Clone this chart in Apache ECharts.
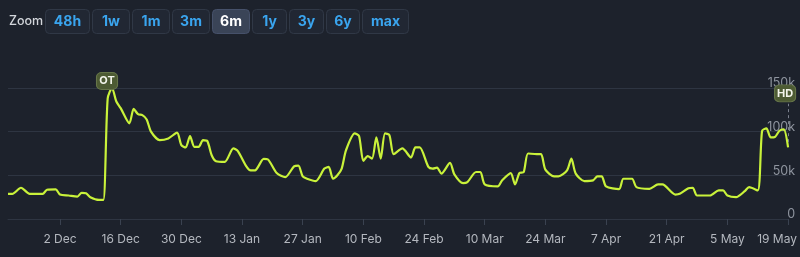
<!DOCTYPE html>
<html><head><meta charset="utf-8">
<script src="https://cdn.jsdelivr.net/npm/echarts@6/dist/echarts.min.js"></script>
<style>html,body{margin:0;padding:0;background:#1d222c;}#c{width:800px;height:257px;}</style>
</head><body><div id="c"></div>
<script>
// ---------- DATA ----------
const dates = ['2024-11-20','2024-11-21','2024-11-23','2024-11-25','2024-11-28','2024-11-29','2024-12-01','2024-12-02','2024-12-04','2024-12-06','2024-12-07','2024-12-08','2024-12-09','2024-12-11','2024-12-12','2024-12-13','2024-12-14','2024-12-15','2024-12-16','2024-12-18','2024-12-19','2024-12-20','2024-12-21','2024-12-22','2024-12-23','2024-12-25','2024-12-27','2024-12-29','2024-12-30','2024-12-31','2025-01-01','2025-01-02','2025-01-03','2025-01-04','2025-01-05','2025-01-06','2025-01-07','2025-01-09','2025-01-11','2025-01-12','2025-01-14','2025-01-15','2025-01-16','2025-01-18','2025-01-19','2025-01-21','2025-01-23','2025-01-25','2025-01-26','2025-01-27','2025-01-28','2025-01-30','2025-02-01','2025-02-02','2025-02-03','2025-02-04','2025-02-05','2025-02-06','2025-02-08','2025-02-09','2025-02-10','2025-02-11','2025-02-12','2025-02-13','2025-02-14','2025-02-15','2025-02-16','2025-02-17','2025-02-19','2025-02-21','2025-02-22','2025-02-23','2025-02-25','2025-02-26','2025-02-27','2025-02-28','2025-03-02','2025-03-03','2025-03-05','2025-03-06','2025-03-08','2025-03-09','2025-03-10','2025-03-13','2025-03-14','2025-03-16','2025-03-17','2025-03-18','2025-03-19','2025-03-20','2025-03-22','2025-03-23','2025-03-24','2025-03-26','2025-03-27','2025-03-29','2025-03-30','2025-03-31','2025-04-02','2025-04-04','2025-04-05','2025-04-06','2025-04-07','2025-04-10','2025-04-11','2025-04-13','2025-04-14','2025-04-17','2025-04-19','2025-04-20','2025-04-23','2025-04-24','2025-04-26','2025-04-27','2025-04-28','2025-05-01','2025-05-03','2025-05-04','2025-05-05','2025-05-07','2025-05-09','2025-05-10','2025-05-12','2025-05-13','2025-05-14','2025-05-15','2025-05-16','2025-05-17','2025-05-18','2025-05-19'];
const players = [28800,28800,35800,28800,28800,33500,34000,28000,26900,25700,30000,29500,25000,21900,21900,138000,150000,134600,126900,109600,126000,120000,119000,114000,100000,90300,92300,98800,84600,81900,95000,82600,82600,90300,89200,73000,66100,65300,80800,78000,60300,55700,55700,68800,68100,52600,48000,60300,61200,48800,46100,43400,57700,59600,46100,50000,57700,78800,98000,95000,66500,71900,69200,93400,69200,98000,96100,74200,80800,70400,81900,81900,59600,57700,58800,51900,64200,51100,41100,42200,53800,53800,39600,37300,44200,52600,39600,52600,53800,75000,74200,74200,56500,48800,48800,55700,69200,51900,43400,44200,48800,48800,37300,34200,46100,46100,36500,34600,39600,39600,28000,28800,35300,35800,26900,26900,32700,32700,26900,25000,31800,36500,32700,101000,103800,93400,94100,101000,102700,82000];
const tickDates = ['2024-12-02','2024-12-16','2024-12-30','2025-01-13','2025-01-27','2025-02-10','2025-02-24','2025-03-10','2025-03-24','2025-04-07','2025-04-21','2025-05-05','2025-05-19'];
const xRange = ['2024-11-20','2025-05-19'];
const yTicks = [0, 50000, 100000, 150000];
const zoomButtons = ['48h','1w','1m','3m','6m','1y','3y','6y','max'];
const activeButton = '6m';
const flagDates = ['2024-12-14','2025-05-19'];
const flagValues = [150000, 82000];
const flagTexts = ['OT','HD'];

// ---------- HELPERS ----------
const MONTHS = ['Jan','Feb','Mar','Apr','May','Jun','Jul','Aug','Sep','Oct','Nov','Dec'];
function ts(s){ const p = s.split('-').map(Number); return new Date(p[0], p[1]-1, p[2]).getTime(); }
const seriesData = dates.map((d,i)=>[ts(d), players[i]]);
const tickTs = tickDates.map(ts);
const lastTick = tickTs[tickTs.length-1];

// ---------- BUTTON LAYOUT (styling) ----------
const btnX = [45, 92, 132, 172, 212, 252, 289, 326, 362];
const btnW = [44, 37, 37, 37, 37, 34, 34, 33, 46];
const graphics = [{
  type:'text', left: 9, top: 15,
  style:{ text:'Zoom', fill:'#d3d6db', font:'500 12.5px Inter, sans-serif' }
}];
zoomButtons.forEach((b,i)=>{
  const active = b === activeButton;
  graphics.push({
    type:'group', left: btnX[i], top: 9,
    children:[
      { type:'rect', shape:{x:0,y:0,width:btnW[i],height:24,r:4},
        style:{ fill: active ? '#3a4457' : '#212733', stroke: active ? '#46516a' : '#303846', lineWidth:1 } },
      { type:'text', x: btnW[i]/2, y: 12,
        style:{ text:b, fill: active ? '#ffffff' : '#3aa5ef', font:'bold 14px Inter, sans-serif',
                align:'center', verticalAlign:'middle' } }
    ]
  });
});

const flagOffsets = [[-5,-7],[-3,-54]];

const chart = echarts.init(document.getElementById('c'), null, {renderer:'canvas'});
chart.setOption({
  backgroundColor:'#1d222c',
  animation:false,
  textStyle:{ fontFamily:'Inter, sans-serif' },
  grid:{ left:8, right:9, top:88, bottom:38 },
  graphic: graphics,
  xAxis:{
    type:'value', min: ts(xRange[0]), max: ts(xRange[1]),
    axisLine:{ show:true, lineStyle:{ color:'#2e3542' } },
    axisTick:{ show:true, customValues: tickTs, length:6, lineStyle:{ color:'#3a4250' } },
    axisLabel:{
      customValues: tickTs, color:'#b4b8bf', fontSize:12, margin:14,
      formatter: v => { const d = new Date(v); const s = d.getDate() + ' ' + MONTHS[d.getMonth()];
        return v === lastTick ? '{last|' + s + '}' : s; },
      rich:{ last:{ color:'#b4b8bf', fontSize:12, padding:[0,22,0,0] } }
    },
    splitLine:{ show:false }
  },
  yAxis:{
    type:'value', position:'right', min: yTicks[0], max: yTicks[yTicks.length-1], interval: yTicks[1]-yTicks[0],
    axisLine:{ show:false }, axisTick:{ show:false },
    axisLabel:{ inside:true, margin:-7, color:'#8e949e', fontSize:12.5, verticalAlign:'bottom', lineHeight:9,
      formatter: v => v === 0 ? '0' : (v/1000) + 'k' },
    splitLine:{ lineStyle:{ color:'#2e3542', width:1 } }
  },
  series:[{
    type:'line', data: seriesData, showSymbol:false, smooth:0.25, clip:false,
    lineStyle:{ color:'#c9f23a', width:2.2 },
    z: 3,
    markLine:{
      silent:true, symbol:'none',
      lineStyle:{ color:'#7a808c', type:[3,3], width:1 },
      label:{ show:false },
      data:[[ {coord:[ts(flagDates[1]), flagValues[1]+6000]}, {coord:[ts(flagDates[1]), flagValues[1]+50000]} ]]
    },
    markPoint:{
      silent:true,
      data: flagTexts.map((t,i)=>({
        coord:[ts(flagDates[i]), flagValues[i]],
        symbol:'roundRect', symbolSize:[21,17], symbolOffset: flagOffsets[i],
        itemStyle:{ color:'#4d5b33', borderColor:'#66754a', borderWidth:1 },
        label:{ show:true, formatter:t, color:'#f2f4ea', fontWeight:'bold', fontSize:11, position:'inside' }
      }))
    }
  }]
});
</script>
</body></html>
